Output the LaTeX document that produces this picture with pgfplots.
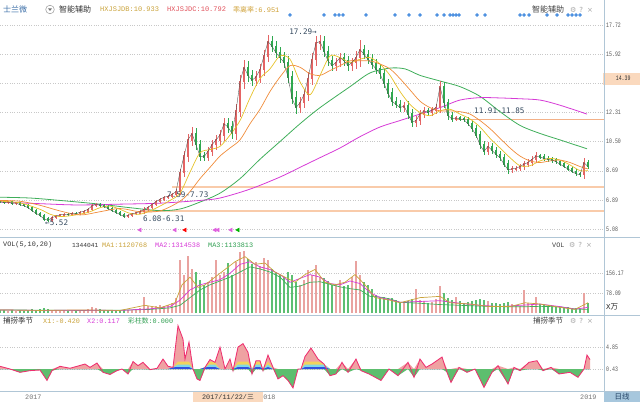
\documentclass[border=0pt]{standalone}
\usepackage{pgfplots}
\pgfplotsset{compat=1.18}
\usepackage{pgfplotstable}
\usepackage{fontspec}
\setmainfont{Liberation Sans}
\newfontfamily\mono{Liberation Mono}
\newfontfamily\tickf[FakeStretch=0.72]{Liberation Mono}
\newfontfamily\annf{DejaVu Sans Mono}
\newfontfamily\cjk{Noto Sans CJK SC}
\newfontfamily\sym{DejaVu Sans}
\definecolor{upc}{HTML}{E46464}
\definecolor{dnc}{HTML}{2FA84F}
\definecolor{vupc}{HTML}{E9A3A0}
\definecolor{vdnc}{HTML}{5DBF72}
\definecolor{gridc}{HTML}{C8C8C8}
\definecolor{tickc}{HTML}{555555}
\definecolor{sepc}{HTML}{B0C6D6}
\definecolor{ma120}{HTML}{3FAE5A}
\definecolor{ma250}{HTML}{D63AD6}
\definecolor{ma10}{HTML}{E6C229}
\definecolor{ma20}{HTML}{F08C3A}
\definecolor{peach}{HTML}{F9CBAA}
\definecolor{peachl}{HTML}{F3B188}
\definecolor{dotc}{HTML}{4A8FE0}
\definecolor{annc}{HTML}{34495E}
\definecolor{goldt}{HTML}{C9A23A}
\definecolor{redt}{HTML}{E0505A}
\definecolor{magt}{HTML}{D63AD6}
\definecolor{greent}{HTML}{2E9E50}
\definecolor{pinkf}{HTML}{EFA2A2}
\definecolor{greenf}{HTML}{5DBE6E}
\definecolor{indl}{HTML}{EE3070}
\definecolor{bandy}{HTML}{F2D35C}
\definecolor{bandc}{HTML}{7FD8E8}
\definecolor{bandb}{HTML}{3050E0}
\definecolor{namec}{HTML}{3C6FA8}
\definecolor{datebox}{HTML}{FAD9BE}
\definecolor{rxbox}{HTML}{A7C7DD}

\pgfplotstableread{
x o c w v
0 6.82 6.78 0.08 12
4 6.78 6.72 0.08 10
8 6.72 6.75 0.08 9
12 6.75 6.66 0.08 11
16 6.66 6.70 0.08 8
20 6.70 6.58 0.08 10
24 6.58 6.52 0.08 9
28 6.52 6.40 0.08 12
32 6.40 6.22 0.10 14
36 6.22 6.05 0.10 13
40 6.05 5.92 0.10 15
44 5.92 5.70 0.12 18
48 5.70 5.62 0.10 14
52 5.62 5.78 0.10 12
56 5.78 5.88 0.08 10
60 5.88 5.95 0.08 9
64 5.95 6.00 0.08 11
68 6.00 5.97 0.08 8
72 5.97 6.05 0.08 10
76 6.05 6.02 0.08 9
80 6.02 6.12 0.08 11
84 6.12 6.18 0.08 12
88 6.18 6.30 0.10 16
92 6.30 6.52 0.12 22
96 6.52 6.62 0.10 18
100 6.62 6.55 0.08 14
104 6.55 6.48 0.08 12
108 6.48 6.35 0.08 11
112 6.35 6.22 0.08 10
116 6.22 6.10 0.08 11
120 6.10 5.98 0.08 12
124 5.98 5.86 0.08 13
128 5.86 5.92 0.08 10
132 5.92 6.02 0.08 12
136 6.02 6.08 0.08 14
140 6.08 6.15 0.10 20
144 6.15 6.30 0.12 62
148 6.30 6.42 0.10 28
152 6.42 6.60 0.10 24
156 6.60 6.78 0.10 26
160 6.78 6.92 0.10 30
164 6.92 7.05 0.10 28
168 7.05 7.10 0.10 32
172 7.10 7.22 0.12 40
176 7.22 7.40 0.15 60
180 7.40 8.60 0.20 207
184 8.60 9.60 0.30 150
188 9.60 10.60 0.35 222
192 10.60 11.00 0.40 170
196 11.00 10.30 0.35 160
200 10.30 9.60 0.30 130
204 9.60 9.55 0.25 110
208 9.55 9.90 0.25 120
212 9.90 10.30 0.30 140
216 10.30 10.60 0.30 207
220 10.60 10.90 0.30 150
224 10.90 11.60 0.35 160
228 11.60 11.40 0.35 195
232 11.40 11.00 0.35 150
236 11.00 12.40 0.40 200
240 12.40 14.20 0.40 238
244 14.20 15.10 0.45 242
248 15.10 14.60 0.40 210
252 14.60 14.30 0.35 190
256 14.30 14.50 0.35 200
260 14.50 14.95 0.35 185
264 14.95 15.80 0.40 215
268 15.80 16.70 0.40 205
272 16.70 16.40 0.35 170
276 16.40 16.00 0.35 160
280 16.00 15.70 0.35 150
284 15.70 15.40 0.35 140
288 15.40 14.50 0.40 160
292 14.50 13.20 0.40 150
296 13.20 12.60 0.40 120
300 12.60 12.90 0.35 110
304 12.90 13.40 0.35 130
308 13.40 14.40 0.40 168
312 14.40 15.60 0.40 150
316 15.60 16.60 0.45 187
320 16.60 16.70 0.40 140
324 16.70 16.10 0.35 135
328 16.10 15.50 0.35 125
332 15.50 15.20 0.30 110
336 15.20 15.40 0.30 115
340 15.40 15.70 0.30 129
344 15.70 15.50 0.30 105
348 15.50 15.20 0.30 110
352 15.20 15.40 0.30 140
356 15.40 15.70 0.40 203
360 15.70 16.20 0.60 150
364 16.20 15.90 0.30 121
368 15.90 15.60 0.30 110
372 15.60 15.30 0.30 95
376 15.30 15.00 0.30 70
380 15.00 14.70 0.30 64
384 14.70 14.10 0.30 62
388 14.10 13.50 0.30 60
392 13.50 13.00 0.30 58
396 13.00 12.80 0.25 50
400 12.80 12.60 0.25 44
404 12.60 12.70 0.25 42
408 12.70 12.20 0.30 48
412 12.20 11.70 0.30 55
416 11.70 11.80 0.30 94
420 11.80 12.20 0.25 50
424 12.20 12.40 0.25 45
428 12.40 12.30 0.20 40
432 12.30 12.45 0.20 42
436 12.45 12.60 0.25 55
440 12.60 13.90 0.35 105
444 13.90 12.90 0.30 80
448 12.90 12.10 0.25 60
452 12.10 11.90 0.20 50
456 11.90 11.95 0.15 62
460 11.95 11.90 0.15 45
464 11.90 11.85 0.15 40
468 11.85 11.60 0.15 42
472 11.60 11.30 0.20 48
476 11.30 10.90 0.20 52
480 10.90 10.30 0.25 55
484 10.30 9.90 0.25 50
488 9.90 10.20 0.25 45
492 10.20 9.95 0.20 40
496 9.95 9.70 0.20 38
500 9.70 9.50 0.20 35
504 9.50 9.10 0.20 40
508 9.10 8.75 0.25 42
512 8.75 8.80 0.20 35
516 8.80 8.85 0.15 30
520 8.85 8.95 0.15 28
524 8.95 9.10 0.20 90
528 9.10 9.20 0.20 40
532 9.20 9.40 0.20 35
536 9.40 9.60 0.25 62
540 9.60 9.55 0.15 35
544 9.55 9.45 0.15 30
548 9.45 9.40 0.15 28
552 9.40 9.35 0.15 26
556 9.35 9.25 0.12 25
560 9.25 9.10 0.12 25
564 9.10 8.95 0.12 24
568 8.95 8.80 0.12 22
572 8.80 8.65 0.12 20
576 8.65 8.50 0.12 18
580 8.50 8.45 0.12 16
584 8.45 9.20 0.30 78
588 9.20 8.95 0.15 40
}\candles

\pgfplotstableread{
x d
0 0.54
10 0.0
20 -0.67
30 -0.33
40 -0.2
47 -2.3
52 -0.33
60 0.54
70 0.15
77 0.54
85 1.0
90 0.33
97 1.2
103 -0.67
110 -1.1
117 -0.33
122 0
128 -1.0
133 1.5
138 0.67
143 1.34
150 -0.13
157 0.13
163 2.0
168 0.54
173 0.33
178 8.7
183 6.0
185 2.0
189 5.4
193 0
197 -2.0
200 -2.3
205 0.33
210 1.9
215 1.34
220 4.4
225 0
230 2.0
233 -0.33
238 4.4
243 5.1
248 3.35
252 -1.0
256 1.67
260 1.67
263 -0.33
268 2.8
273 0.33
278 -2.0
283 -1.34
288 -2.3
293 -3.8
298 0
301 0
305 2.5
311 4.2
318 2.0
324 1.0
330 -1.34
336 -1.0
342 1.34
348 -0.67
356 2.0
361 -0.33
369 -1.0
381 -2.3
389 0
398 -1.34
408 1.34
414 -1.67
420 2.0
426 0.33
432 1.0
442 2.4
447 -0.67
451 -2.7
459 0.33
467 -0.67
475 0
484 -3.7
492 -0.67
498 0.67
508 -3.0
514 0.33
520 -0.33
529 1.34
537 1.67
543 -0.33
551 0.33
559 -1.0
570 -0.67
578 -1.67
584 0.0
587 2.8
590 1.9
}\ind

\def\win{(((\thisrow{x}>=172)&&(\thisrow{x}<=193))||((\thisrow{x}>=203)&&(\thisrow{x}<=216))||((\thisrow{x}>=234)&&(\thisrow{x}<=272))||((\thisrow{x}>=300)&&(\thisrow{x}<=324)))}

\begin{document}
\begin{tikzpicture}[x=1pt,y=1pt]
\pgfplotsset{panel/.style={scale only axis, width=604pt, xmin=0, xmax=604,
  axis line style={draw=none}, xtick=\empty, major tick length=0pt,
  yticklabel pos=right, ymajorgrids, grid style={dotted, gridc},
  /pgf/number format/assume math mode=true,
  /pgfplots/yticklabel style={font=\tickf\fontsize{6.8}{7}\selectfont, text=tickc, anchor=west, inner sep=0pt, xshift=2pt}}}

% ---------------- main price panel
\begin{axis}[panel, at={(0pt,165pt)}, anchor=south west, height=219pt,
  ymin=4.585, ymax=18.154, clip=false,
  ytick={5.08,6.89,8.69,10.50,12.31,14.11,15.92,17.72},
  yticklabels={5.08,6.89,8.69,10.50,12.31,,15.92,17.72}]
\addplot[peach, line width=2pt] coordinates {(140,6.22)(604,6.22)};
\addplot[peach, line width=2pt] coordinates {(172,7.70)(604,7.70)};
\addplot[peachl, line width=0.8pt] coordinates {(455,11.88)(604,11.88)};
\addplot[ma120, line width=0.8pt, smooth] coordinates {(0,7.05)(30,7.0)(60,6.85)(100,6.62)(130,6.4)(160,6.22)(180,6.32)(200,6.75)(220,7.3)(240,8.2)(260,9.4)(280,10.5)(300,11.6)(320,12.6)(350,13.9)(370,14.75)(390,15.05)(405,15.0)(420,14.6)(440,14.25)(460,13.9)(480,13.3)(500,12.35)(520,11.5)(540,11.0)(560,10.6)(587,10.05)};
\addplot[ma250, line width=0.8pt, smooth] coordinates {(0,6.75)(40,6.65)(77,6.57)(120,6.62)(160,6.68)(200,6.85)(220,7.0)(250,7.55)(280,8.3)(300,8.9)(320,9.5)(340,10.1)(360,10.8)(380,11.4)(400,11.8)(420,12.2)(440,12.6)(460,13.07)(480,13.22)(500,13.2)(520,13.15)(540,13.07)(560,12.75)(587,12.2)};
\addplot[draw=none, mark=none, error bars/.cd, y dir=both, y explicit, error mark=none, error bar style={line width=0.55pt, draw=upc}]
  table[x=x, y expr={(\thisrow{o}+\thisrow{c})/2}, y error expr={abs(\thisrow{c}-\thisrow{o})/2+\thisrow{w}}, restrict expr to domain={\thisrow{c}-\thisrow{o}}{0:100}] {\candles};
\addplot[draw=none, mark=none, error bars/.cd, y dir=both, y explicit, error mark=none, error bar style={line width=0.55pt, draw=dnc}]
  table[x=x, y expr={(\thisrow{o}+\thisrow{c})/2}, y error expr={abs(\thisrow{c}-\thisrow{o})/2+\thisrow{w}}, restrict expr to domain={\thisrow{c}-\thisrow{o}}{-100:-0.0001}] {\candles};
\addplot[draw=none, mark=none, error bars/.cd, y dir=both, y explicit, error mark=none, error bar style={line width=2.2pt, draw=upc}]
  table[x=x, y expr={(\thisrow{o}+\thisrow{c})/2}, y error expr={abs(\thisrow{c}-\thisrow{o})/2+0.04}, restrict expr to domain={\thisrow{c}-\thisrow{o}}{0:100}] {\candles};
\addplot[draw=none, mark=none, error bars/.cd, y dir=both, y explicit, error mark=none, error bar style={line width=2.2pt, draw=dnc}]
  table[x=x, y expr={(\thisrow{o}+\thisrow{c})/2}, y error expr={abs(\thisrow{c}-\thisrow{o})/2+0.04}, restrict expr to domain={\thisrow{c}-\thisrow{o}}{-100:-0.0001}] {\candles};
\addplot[ma10, line width=0.7pt, smooth] coordinates {(0,6.8)(20,6.7)(40,6.3)(50,6.0)(60,5.85)(70,5.9)(80,6.0)(90,6.15)(100,6.4)(110,6.5)(120,6.3)(130,6.05)(140,6.0)(150,6.2)(160,6.5)(170,6.85)(180,7.3)(190,8.6)(200,9.8)(210,10.0)(220,10.2)(230,10.9)(240,11.8)(250,13.2)(260,14.4)(270,15.0)(280,15.8)(290,15.6)(300,14.2)(310,13.4)(320,14.6)(330,15.8)(340,15.7)(350,15.4)(360,15.6)(370,15.7)(380,15.3)(390,14.6)(400,13.6)(410,12.8)(420,12.3)(430,12.1)(440,12.4)(450,12.5)(460,12.2)(470,11.9)(480,11.4)(490,10.7)(500,10.1)(510,9.5)(520,9.0)(530,9.0)(540,9.3)(550,9.45)(560,9.35)(570,9.05)(580,8.7)(588,8.7)};
\addplot[ma20, line width=0.7pt, smooth] coordinates {(0,6.85)(20,6.8)(40,6.55)(60,6.2)(80,5.95)(100,6.15)(120,6.35)(140,6.15)(160,6.2)(180,6.8)(190,7.4)(200,8.2)(210,8.9)(220,9.6)(230,10.1)(240,10.6)(250,11.6)(260,12.5)(270,13.6)(280,14.5)(290,15.2)(300,15.1)(310,14.7)(320,14.6)(330,14.9)(340,15.2)(350,15.5)(360,15.5)(370,15.5)(380,15.3)(390,15.0)(400,14.4)(410,13.7)(420,13.0)(430,12.6)(440,12.4)(450,12.4)(460,12.35)(470,12.2)(480,11.8)(490,11.3)(500,10.7)(510,10.1)(520,9.6)(530,9.3)(540,9.2)(550,9.3)(560,9.35)(570,9.2)(580,8.95)(588,8.8)};
\addplot[black!70, line width=0.35pt] table[x=x, y=c] {\candles};
\addplot[only marks, mark=*, mark size=1.5pt, color=dotc] coordinates {(290,18.34)(324,18.34)(335,18.34)(339,18.34)(343,18.34)(366,18.34)(395,18.34)(409,18.34)(420,18.34)(437,18.34)(444,18.34)(450,18.34)(453,18.34)(456,18.34)(459,18.34)(477,18.34)(485,18.34)(520,18.34)(524,18.34)(529,18.34)(547,18.34)(557,18.34)(568,18.34)(572,18.34)(576,18.34)(580,18.34)};
\addplot[only marks, mark=triangle*, mark size=2.2pt, color=magt!80, mark options={rotate=90}] coordinates {(140,5.02)(175,5.02)(215,5.02)(218,5.02)(231,5.02)};
\addplot[only marks, mark=triangle*, mark size=2.2pt, color=red, mark options={rotate=90}] coordinates {(185,5.02)};
\addplot[only marks, mark=triangle*, mark size=2.2pt, color=green!70!black, mark options={rotate=90}] coordinates {(238,5.02)};
\node[anchor=east, inner sep=0pt, font=\annf\fontsize{7.6}{8}\selectfont, text=annc] at (axis cs:317,17.29) {17.29→};
\node[anchor=west, inner sep=0pt, font=\annf\fontsize{7.6}{8}\selectfont, text=annc] at (axis cs:45,5.45) {←5.52};
\node[anchor=west, inner sep=0pt, font=\annf\fontsize{7.6}{8}\selectfont, text=annc] at (axis cs:143,5.70) {6.08-6.31};
\node[anchor=west, inner sep=0pt, font=\annf\fontsize{7.6}{8}\selectfont, text=annc] at (axis cs:167,7.19) {7.59-7.73};
\node[anchor=west, inner sep=0pt, font=\annf\fontsize{7.6}{8}\selectfont, text=annc] at (axis cs:474,12.41) {11.91-11.85};
\node[anchor=west, fill=datebox, minimum width=37pt, minimum height=12pt, inner sep=0pt, font=\tickf\fontsize{6.8}{7}\selectfont, text=black!80] at (axis cs:603,14.39) {\hspace{3pt}14.39};
\end{axis}

% ---------------- volume panel
\begin{axis}[panel, at={(0pt,87pt)}, anchor=south west, height=78pt,
  ymin=-7.8, ymax=296.7, clip=false,
  ytick={78.09,156.17}, yticklabels={78.09,156.17}]
\addplot[ycomb, line width=2.6pt, color=vupc] table[x=x, y=v, restrict expr to domain={\thisrow{c}-\thisrow{o}}{0:100}] {\candles};
\addplot[ycomb, line width=2.6pt, color=vdnc] table[x=x, y=v, restrict expr to domain={\thisrow{c}-\thisrow{o}}{-100:-0.0001}] {\candles};
\addplot[ma120, line width=0.7pt] coordinates {(0,12)(40,11)(80,10)(120,11)(150,14)(170,20)(180,30)(190,60)(200,90)(210,110)(220,125)(230,140)(240,160)(250,180)(260,172)(270,160)(280,140)(290,100)(300,105)(310,120)(320,122)(330,112)(340,102)(350,95)(360,90)(370,65)(380,62)(390,55)(400,42)(420,38)(440,33)(460,30)(480,27)(500,25)(520,24)(540,26)(560,24)(575,16)(588,14)};
\addplot[ma250, line width=0.7pt] coordinates {(0,12)(40,10)(80,11)(120,10)(150,16)(170,25)(180,50)(190,90)(200,110)(210,120)(220,130)(230,155)(240,190)(250,200)(260,180)(270,170)(280,150)(290,120)(300,135)(310,150)(320,140)(330,115)(340,110)(350,125)(360,115)(370,80)(380,60)(390,52)(400,42)(420,45)(440,48)(460,38)(480,30)(500,25)(520,30)(540,35)(560,25)(575,15)(588,22)};
\addplot[goldt, line width=0.7pt] coordinates {(0,12)(40,10)(80,12)(120,10)(145,30)(160,20)(175,40)(182,110)(190,140)(198,100)(205,110)(215,140)(225,170)(235,200)(245,220)(255,190)(265,195)(275,160)(285,140)(295,120)(305,150)(315,170)(325,120)(335,110)(345,120)(355,150)(365,110)(375,60)(390,50)(400,40)(420,60)(440,65)(450,40)(470,35)(490,25)(510,25)(525,40)(540,35)(560,22)(575,14)(588,40)};
\node[anchor=west, inner sep=0pt, font=\fontsize{7.5}{8}\selectfont, text=black!85] at (axis cs:606,23) {{\mono X}{\cjk 万}};
\end{axis}

% ---------------- indicator panel
\begin{axis}[panel, at={(0pt,11pt)}, anchor=south west, height=76pt,
  ymin=-4.42, ymax=10.85, clip=false,
  ytick={0,4.42}, yticklabels={0.43,4.85}]
\addplot[fill=pinkf, draw=none] table[x=x, y expr={max(\thisrow{d},0)}] {\ind} \closedcycle;
\addplot[fill=bandy, draw=none] table[x=x, y expr={\win ? min(max(\thisrow{d},0),1.5) : 0}] {\ind} \closedcycle;
\addplot[fill=bandc, draw=none] table[x=x, y expr={\win ? min(max(\thisrow{d},0),0.9) : 0}] {\ind} \closedcycle;
\addplot[fill=bandb, draw=none] table[x=x, y expr={\win ? min(max(\thisrow{d},0),0.4) : 0}] {\ind} \closedcycle;
\addplot[fill=greenf, draw=none] table[x=x, y expr={min(\thisrow{d},0)}] {\ind} \closedcycle;
\addplot[indl, line width=0.85pt] table[x=x, y=d] {\ind};
\end{axis}

% ---------------- frame
\draw[sepc, line width=0.6pt] (0,165) -- (640,165);
\draw[sepc, line width=0.6pt] (0,87) -- (640,87);
\draw[sepc, line width=0.6pt] (0,11) -- (640,11);
\draw[sepc, line width=0.6pt] (604,0) -- (604,402);

% ---------------- header texts
\node[anchor=west, inner sep=0pt, text=namec, font=\cjk\fontsize{8}{9}\selectfont] at (3,392.5) {士兰微};
\draw[gray!80, line width=0.5pt] (50,392.5) circle (4.3);
\fill[gray!90!black] (47.9,393.7) -- (52.1,393.7) -- (50,391.1) -- cycle;
\node[anchor=west, inner sep=0pt, text=black!80, font=\cjk\fontsize{8}{9}\selectfont] at (59,392.5) {智能辅助};
\node[anchor=west, inner sep=0pt, text=goldt, font=\mono\fontsize{7}{8}\selectfont] at (100,392.5) {HXJSJDB:10.933};
\node[anchor=west, inner sep=0pt, text=redt, font=\mono\fontsize{7}{8}\selectfont] at (167,392.5) {HXJSJDC:10.792};
\node[anchor=west, inner sep=0pt, text=goldt!90!orange, font=\fontsize{7}{8}\selectfont] at (233,392.5) {{\cjk 乖离率}{\mono :6.951}};
\node[anchor=west, inner sep=0pt, text=black!75, font=\cjk\fontsize{8}{9}\selectfont] at (532,392.5) {智能辅助};
\node[anchor=west, inner sep=0pt, text=gray!70, font=\sym\fontsize{7}{8}\selectfont] at (570,392.5) {⚙\hspace{3pt}?\hspace{4pt}×};

\node[anchor=west, inner sep=0pt, text=black!80, font=\mono\fontsize{6.8}{8}\selectfont] at (3,157) {VOL(5,10,20)};
\node[anchor=west, inner sep=0pt, text=black!80, font=\mono\fontsize{6.2}{8}\selectfont] at (72,157) {1344041};
\node[anchor=west, inner sep=0pt, text=goldt, font=\mono\fontsize{6.8}{8}\selectfont] at (102,157) {MA1:1120768};
\node[anchor=west, inner sep=0pt, text=magt, font=\mono\fontsize{6.8}{8}\selectfont] at (155,157) {MA2:1314538};
\node[anchor=west, inner sep=0pt, text=greent, font=\mono\fontsize{6.8}{8}\selectfont] at (208,157) {MA3:1133813};
\node[anchor=west, inner sep=0pt, text=black!75, font=\mono\fontsize{6.8}{8}\selectfont] at (552,157) {VOL};
\node[anchor=west, inner sep=0pt, text=gray!70, font=\sym\fontsize{7}{8}\selectfont] at (569,157) {⚙\hspace{3pt}?\hspace{4pt}×};

\node[anchor=west, inner sep=0pt, text=black!80, font=\cjk\fontsize{7.5}{8}\selectfont] at (3,81) {捕捞季节};
\node[anchor=west, inner sep=0pt, text=goldt, font=\mono\fontsize{6.8}{8}\selectfont] at (43,81) {X1:-0.420};
\node[anchor=west, inner sep=0pt, text=magt, font=\mono\fontsize{6.8}{8}\selectfont] at (87,81) {X2:0.117};
\node[anchor=west, inner sep=0pt, text=greent, font=\fontsize{6.8}{8}\selectfont] at (128,81) {{\cjk 彩柱数}{\mono :0.000}};
\node[anchor=west, inner sep=0pt, text=black!75, font=\cjk\fontsize{7.5}{8}\selectfont] at (533,81) {捕捞季节};
\node[anchor=west, inner sep=0pt, text=gray!70, font=\sym\fontsize{7}{8}\selectfont] at (570,81) {⚙\hspace{3pt}?\hspace{4pt}×};

% ---------------- bottom strip
\node[anchor=west, inner sep=0pt, text=gray!90!black, font=\mono\fontsize{6.8}{8}\selectfont] at (25,5) {2017};
\node[anchor=west, inner sep=0pt, text=gray!90!black, font=\mono\fontsize{6.8}{8}\selectfont] at (259,5) {2018};
\node[anchor=west, inner sep=0pt, text=gray!90!black, font=\mono\fontsize{6.8}{8}\selectfont] at (580,5) {2019};
\fill[datebox] (193,0) rectangle (263,10.5);
\node[inner sep=0pt, text=black!80, font=\fontsize{6.8}{8}\selectfont] at (228,5) {{\mono 2017/11/22/}{\cjk 三}};
\fill[rxbox] (604.3,0) rectangle (640,10.5);
\node[inner sep=0pt, text=namec!60!black, font=\cjk\fontsize{7.5}{8}\selectfont] at (622,5) {日线};
\pgfresetboundingbox
\useasboundingbox (0,0) rectangle (640,402);
\end{tikzpicture}
\end{document}
